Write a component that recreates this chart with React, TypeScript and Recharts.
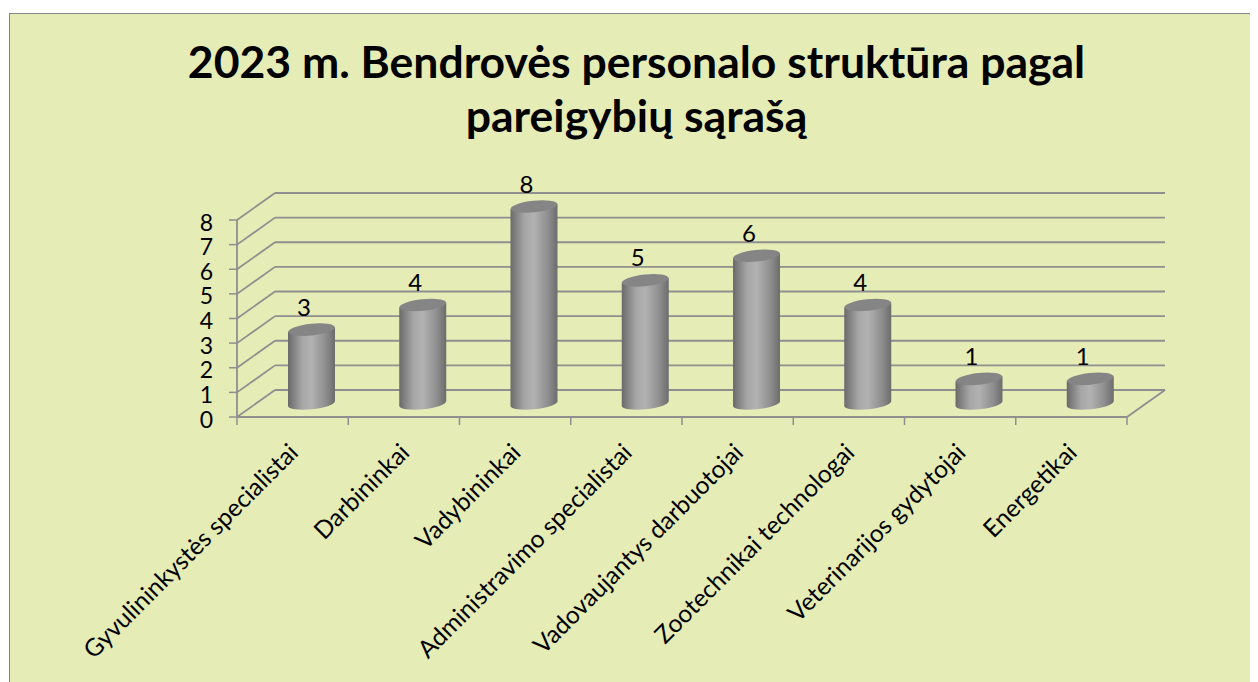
import React from 'react';
import { BarChart, Bar, XAxis, YAxis, CartesianGrid, LabelList } from 'recharts';

const categories = [
  'Gyvulininkystės specialistai',
  'Darbininkai',
  'Vadybininkai',
  'Administravimo specialistai',
  'Vadovaujantys darbuotojai',
  'Zootechnikai technologai',
  'Veterinarijos gydytojai',
  'Energetikai',
];
const employees = [3, 4, 8, 5, 6, 4, 1, 1];
const yTicks = [0, 1, 2, 3, 4, 5, 6, 7, 8];
const titleLines = ['2023 m. Bendrovės personalo struktūra pagal', 'pareigybių sąrašą'];

const data = categories.map((name, i) => ({ name, value: employees[i] }));

const W = 1250;
const H = 674;
const M = { top: 212, right: 131, bottom: 235, left: 169 };
const YW = 60;
const XH = 30;
const PLOT_W = W - M.left - YW - M.right;
const HALF_BAND = PLOT_W / categories.length / 2;
const DX = 38;
const DY = -27;
const FONT = 'Lato, "Open Sans", sans-serif';
const GRID = '#8f8f8f';
const BG = '#E5ECB6';

const gridLine = (p: any) => {
  const { x1, y1, x2, y2 } = p;
  return (
    <g key={p.key ?? `h-${y1}`}>
      <line x1={x1} y1={y1} x2={x1 + DX} y2={y1 + DY} stroke={GRID} strokeWidth={1.8} />
      <line x1={x1 + DX} y1={y1 + DY} x2={x2 + DX} y2={y2 + DY} stroke={GRID} strokeWidth={1.8} />
    </g>
  );
};

const Cylinder = (p: any) => {
  const { x, y, width, height, index } = p;
  if (height == null || width == null) return null;
  const rx = width / 2;
  const ry = 5.8;
  const cx = x + width / 2 + DX / 2;
  const top = y + DY / 2;
  const bottom = y + height + DY / 2;
  const t = 2.4;
  const id = `cylGrad-${index}`;
  const d = `M${cx - rx},${top + t} L${cx - rx},${bottom + t} A${rx},${ry} -6 0 0 ${cx + rx},${bottom - t} L${cx + rx},${top - t} Z`;
  return (
    <g>
      <defs>
        <linearGradient id={id} x1="0" y1="0" x2="1" y2="0">
          <stop offset="0%" stopColor="#6a6a6a" />
          <stop offset="30%" stopColor="#a6a6a6" />
          <stop offset="50%" stopColor="#b2b2b2" />
          <stop offset="80%" stopColor="#8e8e8e" />
          <stop offset="100%" stopColor="#6c6c6c" />
        </linearGradient>
      </defs>
      <path d={d} fill={`url(#${id})`} />
      <ellipse cx={cx} cy={top} rx={rx} ry={ry} fill="#858585" transform={`rotate(-6 ${cx} ${top})`} />
    </g>
  );
};

const ValueLabel = (p: any) => {
  const vb = p.viewBox || {};
  const x = p.x ?? vb.x;
  const y = p.y ?? vb.y;
  const width = p.width ?? vb.width;
  const cx = x + width / 2 + DX / 2 - 7.5;
  const top = y + DY / 2;
  return (
    <text x={cx} y={top - 14} textAnchor="middle" fontSize={24} fontFamily={FONT} fill="#000">
      {p.value}
    </text>
  );
};

const XTick = (p: any) => {
  const { x, y, payload, index } = p;
  const last = index === categories.length - 1;
  const ax = x + 1;
  const ay = y + 31;
  return (
    <g>
      <line x1={x - HALF_BAND} y1={y} x2={x - HALF_BAND} y2={y + 8} stroke={GRID} strokeWidth={1.5} />
      {last && <line x1={x + HALF_BAND} y1={y} x2={x + HALF_BAND} y2={y + 8} stroke={GRID} strokeWidth={1.5} />}
      {last && <line x1={x + HALF_BAND} y1={y} x2={x + HALF_BAND + DX} y2={y + DY} stroke={GRID} strokeWidth={1.8} />}
      <text
        x={ax}
        y={ay}
        dy="0.35em"
        textAnchor="end"
        transform={`rotate(-45 ${ax} ${ay})`}
        fontSize={24.5}
        fontFamily={FONT}
        fill="#000"
      >
        {payload.value}
      </text>
    </g>
  );
};

const YTick = (p: any) => {
  const { x, y, payload } = p;
  return (
    <g>
      <line x1={x - 8} y1={y} x2={x} y2={y} stroke={GRID} strokeWidth={1.5} />
      <text x={x - 24} y={y + 2.5} dy="0.35em" textAnchor="end" fontSize={23} fontFamily={FONT} fill="#000">
        {payload.value}
      </text>
    </g>
  );
};

export default function App() {
  return (
    <div style={{ position: 'relative', width: W, height: H, overflow: 'hidden' }}>
      <div
        style={{
          position: 'absolute',
          left: 1,
          top: 5,
          width: W + 50,
          height: H + 50,
          background: BG,
          borderTop: '1px solid #868686',
          borderLeft: '1px solid #868686',
        }}
      />
      <div style={{ position: 'absolute', left: 0, top: 0 }}>
        <BarChart width={W} height={H} data={data} margin={M}>
          <CartesianGrid horizontal={gridLine} vertical={false} />
          <XAxis
            dataKey="name"
            height={XH}
            interval={0}
            tickSize={0}
            tickMargin={0}
            tickLine={false}
            axisLine={{ stroke: GRID, strokeWidth: 1.8 }}
            tick={<XTick />}
          />
          <YAxis
            width={YW}
            domain={[0, 8]}
            ticks={yTicks}
            interval={0}
            tickSize={0}
            tickMargin={0}
            tickLine={false}
            axisLine={{ stroke: GRID, strokeWidth: 1.8 }}
            tick={<YTick />}
          />
          <Bar dataKey="value" barSize={47} shape={<Cylinder />} isAnimationActive={false}>
            <LabelList dataKey="value" content={<ValueLabel />} />
          </Bar>
        </BarChart>
      </div>
      <svg width={W} height={H} style={{ position: 'absolute', left: 0, top: 0, pointerEvents: 'none' }}>
        <text x={628.5} y={70} textAnchor="middle" fontSize={44.5} fontWeight="bold" fontFamily={FONT} fill="#000">
          {titleLines[0]}
        </text>
        <text x={628.5} y={124} textAnchor="middle" fontSize={44.5} fontWeight="bold" fontFamily={FONT} fill="#000">
          {titleLines[1]}
        </text>
      </svg>
    </div>
  );
}
